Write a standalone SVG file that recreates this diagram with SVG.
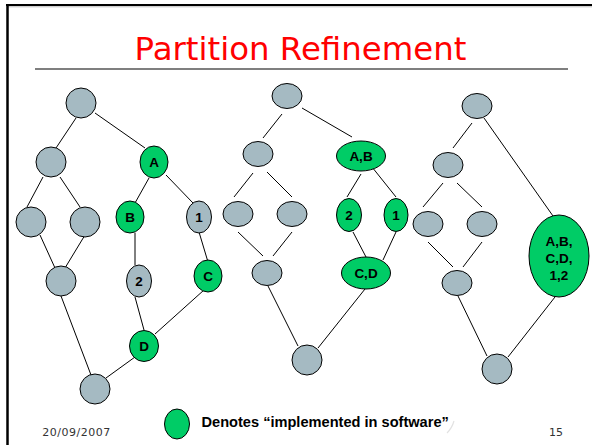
<svg xmlns="http://www.w3.org/2000/svg" width="592" height="445" viewBox="0 0 592 445">
  <style>
    .g { fill: #a5bac2; stroke: #000; stroke-width: 1; }
    .s { fill: #00cc66; stroke: #000; stroke-width: 1; }
    .e { stroke: #000; stroke-width: 1; fill: none; }
    .lb { font-family: "Liberation Sans", Arial, sans-serif; font-weight: bold; font-size: 13.5px; fill: #000; text-anchor: middle; }
    .ft { font-family: "DejaVu Sans", Verdana, sans-serif; font-size: 11px; fill: #333; }
  </style>

  <!-- page frame -->
  <rect x="0" y="0" width="592" height="445" fill="#fff"/>
  <line x1="6" y1="5" x2="592" y2="5" stroke="#000" stroke-width="2"/>
  <line x1="8" y1="6.8" x2="592" y2="6.8" stroke="#bbb" stroke-width="1"/>
  <line x1="7.5" y1="4" x2="7.5" y2="445" stroke="#000" stroke-width="2.5"/>

  <!-- title -->
  <text x="300.5" y="60" text-anchor="middle" font-family="'DejaVu Sans', Verdana, sans-serif" font-size="32.4" fill="#ff0000">Partition Refinement</text>
  <line x1="35" y1="69" x2="568" y2="69" stroke="#555" stroke-width="1.5"/>

  <!-- connectors -->
  <g id="connectors" class="e">
    <!-- left graph -->
    <line x1="76" y1="118" x2="56" y2="148"/>
    <line x1="95" y1="113" x2="145" y2="148"/>
    <line x1="43" y1="177" x2="27" y2="207"/>
    <line x1="60" y1="177" x2="80" y2="207"/>
    <line x1="40" y1="235" x2="55" y2="268"/>
    <line x1="85" y1="235" x2="65" y2="268"/>
    <line x1="149" y1="178" x2="135" y2="203"/>
    <line x1="166" y1="175" x2="193" y2="203"/>
    <line x1="135" y1="233" x2="135" y2="265"/>
    <line x1="199" y1="232" x2="208" y2="262"/>
    <line x1="135" y1="297" x2="144" y2="330"/>
    <line x1="204" y1="290" x2="155" y2="334"/>
    <line x1="61" y1="296" x2="91" y2="375"/>
    <line x1="135" y1="357" x2="106" y2="378"/>
    <!-- middle graph -->
    <line x1="282" y1="114" x2="263" y2="138"/>
    <line x1="302" y1="108" x2="352" y2="137"/>
    <line x1="253" y1="173" x2="234" y2="197"/>
    <line x1="267" y1="172" x2="292" y2="197"/>
    <line x1="238" y1="232" x2="263" y2="256"/>
    <line x1="292" y1="232" x2="273" y2="256"/>
    <line x1="361" y1="174" x2="347" y2="197"/>
    <line x1="372" y1="167" x2="396" y2="197"/>
    <line x1="353" y1="232" x2="366" y2="257"/>
    <line x1="396" y1="232" x2="383" y2="260"/>
    <line x1="268" y1="286" x2="298" y2="346"/>
    <line x1="365" y1="289" x2="318" y2="348"/>
    <!-- right graph -->
    <line x1="472" y1="123" x2="453" y2="148"/>
    <line x1="484" y1="118" x2="553" y2="216"/>
    <line x1="443" y1="183" x2="423" y2="207"/>
    <line x1="457" y1="183" x2="482" y2="207"/>
    <line x1="428" y1="242" x2="453" y2="267"/>
    <line x1="482" y1="242" x2="463" y2="267"/>
    <line x1="458" y1="296" x2="487" y2="356"/>
    <line x1="555" y1="297" x2="508" y2="357"/>
  </g>

  <!-- left graph nodes -->
  <g id="l-root"><circle class="g" cx="81" cy="103" r="15"/></g>
  <g id="l-n1"><circle class="g" cx="51" cy="162" r="15"/></g>
  <g id="l-A"><ellipse class="s" cx="154" cy="162" rx="14" ry="16"/><text class="lb" x="154" y="166.7">A</text></g>
  <g id="l-n2"><circle class="g" cx="31" cy="222" r="15"/></g>
  <g id="l-n3"><circle class="g" cx="85" cy="222" r="15"/></g>
  <g id="l-B"><ellipse class="s" cx="130" cy="217" rx="14" ry="16"/><text class="lb" x="130" y="221.7">B</text></g>
  <g id="l-1"><ellipse class="g" cx="199" cy="217" rx="12.5" ry="16"/><text class="lb" x="199" y="221.7">1</text></g>
  <g id="l-n4"><circle class="g" cx="61" cy="281" r="15"/></g>
  <g id="l-2"><ellipse class="g" cx="139" cy="281" rx="12.5" ry="16"/><text class="lb" x="139" y="285.7">2</text></g>
  <g id="l-C"><ellipse class="s" cx="208" cy="276" rx="14" ry="16"/><text class="lb" x="208" y="280.7">C</text></g>
  <g id="l-D"><ellipse class="s" cx="144" cy="346" rx="14.5" ry="15.5"/><text class="lb" x="144" y="350.7">D</text></g>
  <g id="l-bottom"><circle class="g" cx="95" cy="389" r="15"/></g>

  <!-- middle graph nodes -->
  <g id="m-root"><ellipse class="g" cx="287" cy="96" rx="15" ry="12.5"/></g>
  <g id="m-n1"><ellipse class="g" cx="258" cy="154" rx="15" ry="12.5"/></g>
  <g id="m-AB"><ellipse class="s" cx="361" cy="156" rx="24.5" ry="15"/><text class="lb" x="361" y="160.7">A,B</text></g>
  <g id="m-n2"><ellipse class="g" cx="238" cy="214" rx="15" ry="12.5"/></g>
  <g id="m-n3"><ellipse class="g" cx="292" cy="214" rx="15" ry="12.5"/></g>
  <g id="m-2"><ellipse class="s" cx="349" cy="215" rx="12.5" ry="16.5"/><text class="lb" x="349" y="219.7">2</text></g>
  <g id="m-1"><ellipse class="s" cx="396" cy="215" rx="12" ry="16.5"/><text class="lb" x="396" y="219.7">1</text></g>
  <g id="m-n4"><ellipse class="g" cx="267" cy="273" rx="15" ry="12.5"/></g>
  <g id="m-CD"><ellipse class="s" cx="366" cy="273" rx="24.5" ry="16"/><text class="lb" x="366" y="277.7">C,D</text></g>
  <g id="m-bottom"><circle class="g" cx="307" cy="360" r="15"/></g>

  <!-- right graph nodes -->
  <g id="r-root"><ellipse class="g" cx="477" cy="106" rx="15" ry="12.5"/></g>
  <g id="r-n1"><ellipse class="g" cx="448" cy="165" rx="15" ry="12.5"/></g>
  <g id="r-n2"><ellipse class="g" cx="428" cy="224" rx="15" ry="12.5"/></g>
  <g id="r-n3"><ellipse class="g" cx="482" cy="224" rx="15" ry="12.5"/></g>
  <g id="r-all">
    <ellipse class="s" cx="559" cy="256" rx="30" ry="41"/>
    <text class="lb" x="559" y="246">A,B,</text>
    <text class="lb" x="559" y="263">C,D,</text>
    <text class="lb" x="559" y="280">1,2</text>
  </g>
  <g id="r-n4"><ellipse class="g" cx="457" cy="283" rx="15" ry="12.5"/></g>
  <g id="r-bottom"><circle class="g" cx="497" cy="369" r="15"/></g>

  <!-- legend -->
  <g id="legend">
    <ellipse class="s" cx="177" cy="424" rx="12.5" ry="15"/>
    <text x="201.5" y="426.7" font-family="'Liberation Sans', Arial, sans-serif" font-weight="bold" font-size="14.6" fill="#000">Denotes “implemented in software”</text>
    <path d="M447 433 Q452 428 454 421" fill="none" stroke="#e2e2e2" stroke-width="1.2"/>
  </g>

  <!-- footer -->
  <text class="ft" x="42.3" y="436" textLength="68">20/09/2007</text>
  <text class="ft" x="549" y="436">15</text>
</svg>
